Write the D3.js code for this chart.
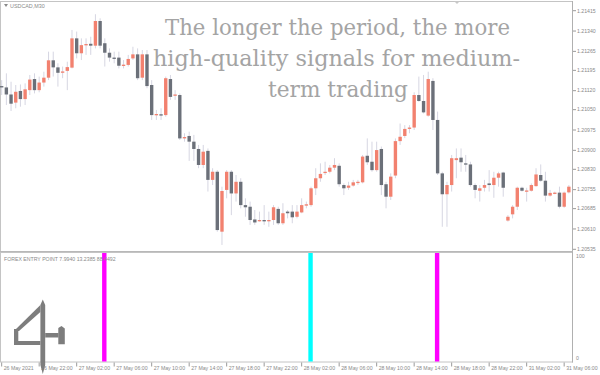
<!DOCTYPE html>
<html><head><meta charset="utf-8">
<script src="https://cdn.jsdelivr.net/npm/d3@7"></script>
<style>html,body{margin:0;padding:0;background:#fff;overflow:hidden}</style>
</head><body><svg id="c" width="600" height="375"></svg>
<script>
const opens = [1.21137,1.21132,1.21106,1.21076,1.21119,1.21089,1.21122,1.21163,1.21122,1.21150,
 1.21168,1.21232,1.21206,1.21186,1.21193,1.21205,1.21313,1.21258,1.21288,1.21293,
 1.21286,1.21377,1.21295,1.21260,1.21242,1.21242,1.21212,1.21215,1.21239,1.21254,
 1.21168,1.21254,1.21141,1.21030,1.21033,1.21030,1.21163,1.21102,1.21104,1.20944,
 1.20953,1.20932,1.20905,1.20846,1.20898,1.20791,1.20821,1.20600,1.20754,1.20821,
 1.20741,1.20784,1.20698,1.20692,1.20645,1.20639,1.20643,1.20639,1.20643,1.20684,
 1.20631,1.20674,1.20674,1.20655,1.20671,1.20696,1.20698,1.20760,1.20797,1.20818,
 1.20821,1.20836,1.20843,1.20772,1.20762,1.20770,1.20782,1.20782,1.20880,1.20858,
 1.20827,1.20905,1.20775,1.20729,1.20807,1.20934,1.20953,1.20979,1.20984,1.21104,
 1.21082,1.21028,1.21156,1.21012,1.20815,1.20738,1.20772,1.20864,1.20873,1.20852,
 1.20848,1.20772,1.20751,1.20762,1.20778,1.20772,1.20799,1.20818,1.20641,1.20664,
 1.20692,1.20762,1.20750,1.20751,1.20768,1.20809,1.20788,1.20733,1.20741,1.20744,
 1.20692,1.20745];
const highs = [1.21159,1.21184,1.21153,1.21141,1.21143,1.21147,1.21178,1.21184,1.21172,1.21190,
 1.21264,1.21264,1.21221,1.21209,1.21227,1.21344,1.21338,1.21313,1.21313,1.21319,
 1.21402,1.21387,1.21313,1.21276,1.21264,1.21264,1.21233,1.21252,1.21282,1.21276,
 1.21270,1.21270,1.21159,1.21049,1.21055,1.21172,1.21178,1.21122,1.21110,1.20963,
 1.20969,1.20957,1.20920,1.20920,1.20907,1.20834,1.20827,1.20766,1.20827,1.20827,
 1.20809,1.20797,1.20723,1.20711,1.20680,1.20674,1.20698,1.20674,1.20698,1.20692,
 1.20705,1.20680,1.20698,1.20698,1.20723,1.20711,1.20766,1.20834,1.20852,1.20858,
 1.20846,1.20871,1.20852,1.20778,1.20784,1.20791,1.20791,1.20883,1.20944,1.20932,
 1.20932,1.20914,1.20784,1.20815,1.20944,1.20999,1.20993,1.20993,1.21114,1.21172,
 1.21178,1.21190,1.21166,1.21043,1.20821,1.20784,1.20883,1.20907,1.20907,1.20883,
 1.20858,1.20778,1.20772,1.20791,1.20827,1.20821,1.20821,1.20821,1.20661,1.20698,
 1.20766,1.20766,1.20762,1.20778,1.20834,1.20848,1.20821,1.20754,1.20748,1.20766,
 1.20748,1.20772];
const lows = [1.21104,1.21067,1.21045,1.21055,1.21061,1.21067,1.21104,1.21110,1.21114,1.21135,
 1.21159,1.21172,1.21135,1.21166,1.21122,1.21202,1.21239,1.21233,1.21252,1.21252,
 1.21276,1.21276,1.21209,1.21227,1.21221,1.21202,1.21202,1.21209,1.21233,1.21159,
 1.21159,1.21129,1.21012,1.21012,1.21012,1.21024,1.21086,1.21086,1.20938,1.20932,
 1.20861,1.20861,1.20834,1.20834,1.20748,1.20772,1.20600,1.20551,1.20723,1.20661,
 1.20711,1.20686,1.20655,1.20625,1.20625,1.20637,1.20625,1.20618,1.20625,1.20625,
 1.20625,1.20649,1.20631,1.20649,1.20668,1.20686,1.20692,1.20735,1.20784,1.20809,
 1.20815,1.20827,1.20766,1.20735,1.20754,1.20766,1.20772,1.20778,1.20846,1.20821,
 1.20821,1.20735,1.20686,1.20717,1.20797,1.20920,1.20945,1.20963,1.20975,1.21079,
 1.21036,1.21024,1.20975,1.20809,1.20618,1.20618,1.20748,1.20797,1.20821,1.20821,
 1.20766,1.20723,1.20711,1.20748,1.20748,1.20725,1.20766,1.20729,1.20637,1.20649,
 1.20680,1.20748,1.20711,1.20748,1.20766,1.20784,1.20711,1.20729,1.20738,1.20686,
 1.20688,1.20741];
const closes = [1.21132,1.21106,1.21072,1.21116,1.21089,1.21125,1.21161,1.21122,1.21150,1.21168,
 1.21232,1.21206,1.21186,1.21191,1.21207,1.21313,1.21258,1.21288,1.21292,1.21286,
 1.21377,1.21286,1.21260,1.21242,1.21239,1.21212,1.21216,1.21237,1.21254,1.21166,
 1.21254,1.21137,1.21030,1.21034,1.21030,1.21166,1.21097,1.21106,1.20944,1.20949,
 1.20932,1.20905,1.20846,1.20895,1.20791,1.20821,1.20606,1.20750,1.20821,1.20741,
 1.20784,1.20698,1.20690,1.20643,1.20634,1.20643,1.20638,1.20643,1.20690,1.20631,
 1.20668,1.20668,1.20653,1.20674,1.20698,1.20701,1.20760,1.20797,1.20813,1.20821,
 1.20836,1.20846,1.20775,1.20760,1.20770,1.20782,1.20784,1.20877,1.20856,1.20827,
 1.20901,1.20772,1.20729,1.20803,1.20934,1.20950,1.20979,1.20984,1.21104,1.21082,
 1.21040,1.21163,1.21012,1.20815,1.20738,1.20772,1.20871,1.20871,1.20856,1.20848,
 1.20772,1.20754,1.20760,1.20772,1.20772,1.20799,1.20815,1.20762,1.20655,1.20692,
 1.20762,1.20751,1.20752,1.20772,1.20811,1.20788,1.20733,1.20743,1.20744,1.20692,
 1.20744,1.20766];
const priceTicks = ["1.21415","1.21340","1.21265","1.21195","1.21120","1.21050","1.20975","1.20900","1.20830","1.20755","1.20685","1.20610","1.20535"];
const timeLabels = ["26 May 2021","26 May 22:00","27 May 02:00","27 May 06:00","27 May 10:00","27 May 14:00","27 May 18:00","27 May 22:00","28 May 02:00","28 May 06:00","28 May 10:00","28 May 14:00","28 May 18:00","28 May 22:00","31 May 02:00","31 May 06:00"];
const barsPerLabel = 8;
const signalBars = [22, 66, 93];
const signalColors = ["#ff00ff", "#00ffff", "#ff00ff"];
const indicatorTicks = ["100", "0"];
const symbolLabel = "USDCAD,M30";
const indicatorLabel = "FOREX ENTRY POINT 7.9940 13.2385 88.4492";
const headline = ["The longer the period, the more", "high-quality signals for medium-", "term trading"];

const svg = d3.select("#c");
const W = 600, H = 375;
const panelR = 572;
const axisFont = "'Liberation Sans', Arial, sans-serif";
const txtCol = "#8a8a8a";

svg.append("rect").attr("width", W).attr("height", H).attr("fill", "#ffffff");

const x = d3.scaleBand().domain(d3.range(opens.length)).range([-0.67, 571.2]).paddingInner(0.28).paddingOuter(0.14);
const cx = i => x(i) + x.bandwidth() / 2;
const y = d3.scaleLinear().domain([+priceTicks[priceTicks.length - 1], +priceTicks[0]]).range([249.3, 10.7]);
const yInd = d3.scaleLinear().domain([-3, 103.5]).range([361.5, 253]);

// panels
svg.append("rect").attr("x", 0.5).attr("y", 1.5).attr("width", panelR).attr("height", 250)
  .attr("fill", "#fff").attr("stroke", "#c4c4c4").attr("stroke-width", 1);
svg.append("rect").attr("x", 0.5).attr("y", 252.5).attr("width", panelR).attr("height", 109.5)
  .attr("fill", "#fff").attr("stroke", "#c4c4c4").attr("stroke-width", 1);
svg.append("line").attr("x1", panelR + 0.5).attr("x2", panelR + 0.5).attr("y1", 1).attr("y2", 362.5).attr("stroke", "#b0b0b0");
svg.append("line").attr("x1", 0).attr("x2", panelR + 0.5).attr("y1", 251.5).attr("y2", 251.5).attr("stroke", "#b8b8b8");

// chart shift marker
svg.append("path").attr("d", "M454,1 L460,1 L457,4 Z").attr("fill", "#c8c8c8");

// headline watermark
const hl = [{x: 165, y: 34.5, w: 345}, {x: 153, y: 65.5, w: 367}, {x: 268, y: 96.5, w: 140}];
svg.append("g").selectAll("text").data(headline).join("text")
  .attr("x", (d, i) => hl[i].x).attr("y", (d, i) => hl[i].y)
  .attr("textLength", (d, i) => hl[i].w).attr("lengthAdjust", "spacingAndGlyphs")
  .attr("font-family", "'DejaVu Serif', serif").attr("font-size", 23)
  .attr("fill", "#a4a4a4").text(d => d);

// candles
const candles = d3.range(opens.length).map(i => ({i, o: opens[i], h: highs[i], l: lows[i], c: closes[i]}));
const g = svg.append("g");
g.selectAll("line.wick").data(candles).join("line").attr("class", "wick")
  .attr("x1", d => cx(d.i)).attr("x2", d => cx(d.i))
  .attr("y1", d => y(d.h)).attr("y2", d => y(d.l))
  .attr("stroke", "#d6d6e2").attr("stroke-width", 1);
g.selectAll("rect.body").data(candles).join("rect").attr("class", "body")
  .attr("x", d => x(d.i)).attr("width", x.bandwidth())
  .attr("y", d => y(Math.max(d.o, d.c)))
  .attr("height", d => Math.max(1.3, Math.abs(y(d.o) - y(d.c))))
  .attr("fill", d => d.c >= d.o ? "#f2816f" : "#6b7079");

// price axis
const pa = svg.append("g");
pa.selectAll("line").data(priceTicks).join("line")
  .attr("x1", panelR + 1).attr("x2", panelR + 4).attr("y1", d => y(+d)).attr("y2", d => y(+d))
  .attr("stroke", "#9a9a9a");
pa.selectAll("text").data(priceTicks).join("text")
  .attr("x", 577).attr("y", d => y(+d) + 1.8)
  .attr("font-family", axisFont).attr("font-size", 5.2).attr("fill", txtCol).text(d => d);

// symbol label
svg.append("path").attr("d", "M4,4 L8,4 L6,7 Z").attr("fill", "#8a8a8a");
svg.append("text").attr("x", 10).attr("y", 7.6).attr("font-family", axisFont).attr("font-size", 5.4)
  .attr("fill", txtCol).text(symbolLabel);

// indicator
svg.append("g").selectAll("rect").data(signalBars).join("rect")
  .attr("x", d => cx(d) - 2.7).attr("width", 4.4)
  .attr("y", yInd.range()[1]).attr("height", yInd.range()[0] - yInd.range()[1])
  .attr("fill", (d, i) => signalColors[i]);
svg.append("text").attr("x", 4).attr("y", 261).attr("font-family", axisFont).attr("font-size", 5.2)
  .attr("fill", txtCol).text(indicatorLabel);
svg.append("g").selectAll("text").data(indicatorTicks).join("text")
  .attr("x", 576).attr("y", d => yInd(+d) + 1.8)
  .attr("font-family", axisFont).attr("font-size", 5.2).attr("fill", txtCol).text(d => d);

// time axis
const ta = svg.append("g");
ta.selectAll("line").data(timeLabels).join("line")
  .attr("x1", (d, k) => cx(k * barsPerLabel)).attr("x2", (d, k) => cx(k * barsPerLabel))
  .attr("y1", 362.5).attr("y2", 366.5).attr("stroke", "#9a9a9a");
ta.selectAll("text").data(timeLabels).join("text")
  .attr("x", (d, k) => cx(k * barsPerLabel) + 2).attr("y", 370.3)
  .attr("font-family", axisFont).attr("font-size", 5.2).attr("fill", txtCol).text(d => d);

// logo
const logo = svg.append("g").attr("fill", "#7d7d7d");
logo.append("path").attr("d", "M42.8,299.5 L45.2,305 L45.2,365 L42.8,374 L40.4,365 L40.4,305 Z");
logo.append("path").attr("d", "M40.4,305 L40.4,312 L19,331 L14,331 Z");
logo.append("path").attr("d", "M14,329 L18.3,329 L18.3,341 L40.4,341 L40.4,345 L14,345 Z");
logo.append("path").attr("d", "M45.2,333 L58.5,333 L58.5,337.5 L45.2,337.5 Z");
logo.append("path").attr("d", "M58.3,328 L61.5,326 L64.8,328.5 L64.8,344.3 L58.3,344.3 Z");
</script></body></html>
